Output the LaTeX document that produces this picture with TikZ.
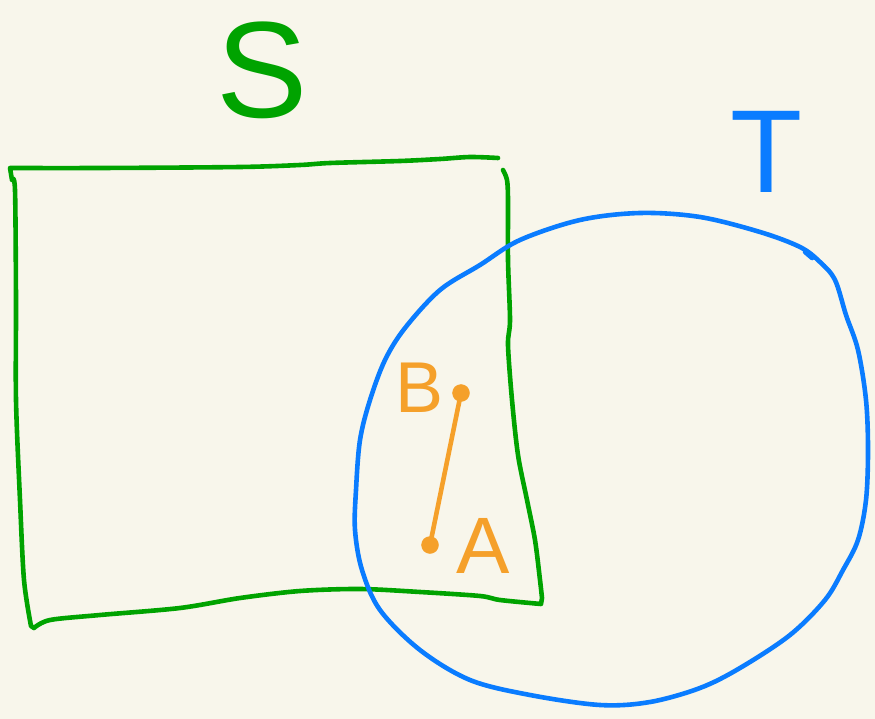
\documentclass[tikz,border=0pt]{standalone}
\usepackage{fontspec}
\setmainfont{Liberation Sans}
\definecolor{bgc}{HTML}{F8F6EB}
\definecolor{gr}{HTML}{00A300}
\definecolor{bl}{HTML}{0A7CFF}
\definecolor{og}{HTML}{F5A02A}
\begin{document}
\begin{tikzpicture}[x=1pt,y=-1pt,
  pen/.style={line width=4.6pt,line cap=round,line join=round},
  dot/.style={circle,fill=og,draw=og,inner sep=0pt,minimum size=17pt},
  lbl/.style={inner sep=0pt,anchor=base}]
\fill[bgc] (0,0) rectangle (875,719);
\useasboundingbox (0,0) rectangle (875,719);
% square S
\draw[pen,gr] plot[smooth,tension=0.5] coordinates {(498,158) (470,157) (440,159) (400,161) (330,163) (300,165) (240,167) (100,168) (10,168)}
  -- (12,180) plot[smooth,tension=0.5] coordinates {(12,180) (15,190) (16,300) (16,400) (20,500) (24,580) (31,626)}
  -- (34,628) plot[smooth,tension=0.5] coordinates {(34,628) (50,620) (100,615) (180,608) (240,598) (300,591) (360,589) (420,592) (480,596) (500,600) (541,604)}
  -- (542,598) plot[smooth,tension=0.5] coordinates {(542,598) (540,580) (535,540) (527,500) (518,455) (512,400) (508,345) (510,320) (508,260) (508,200) (507,180) (503,170)};
% circle T
\draw[pen,bl] plot[smooth cycle,tension=0.55] coordinates {(640,213) (700,217) (760,232) (800,247) (820,262) (835,280) (846,315) (858,350) (866,400) (868,450) (866,500) (858,540) (843,570) (825,600) (790,635) (740,668) (700,688) (650,702) (600,705) (530,695) (470,680) (420,650) (380,610) (362,570) (355,530) (356,490) (360,440) (370,400) (385,360) (405,328) (440,290) (480,265) (520,240) (580,220)};
\draw[pen,bl] (805,252) -- (812,258);
% labels
\node[lbl,text=gr,font=\fontsize{137}{137}\selectfont] (S) at (262,118) {S};
\node[lbl,text=bl,font=\fontsize{118}{118}\selectfont] (T) at (767,193) {T};
\node[lbl,text=og,font=\fontsize{72}{72}\selectfont] (Bl) at (420,412) {B};
\node[lbl,text=og,font=\fontsize{80}{80}\selectfont] (Al) at (483,573) {A};
% points
\node[dot] (B) at (461,393) {};
\node[dot] (A) at (430,545) {};
\draw[pen,og] (B) -- (A);
\end{tikzpicture}
\end{document}
